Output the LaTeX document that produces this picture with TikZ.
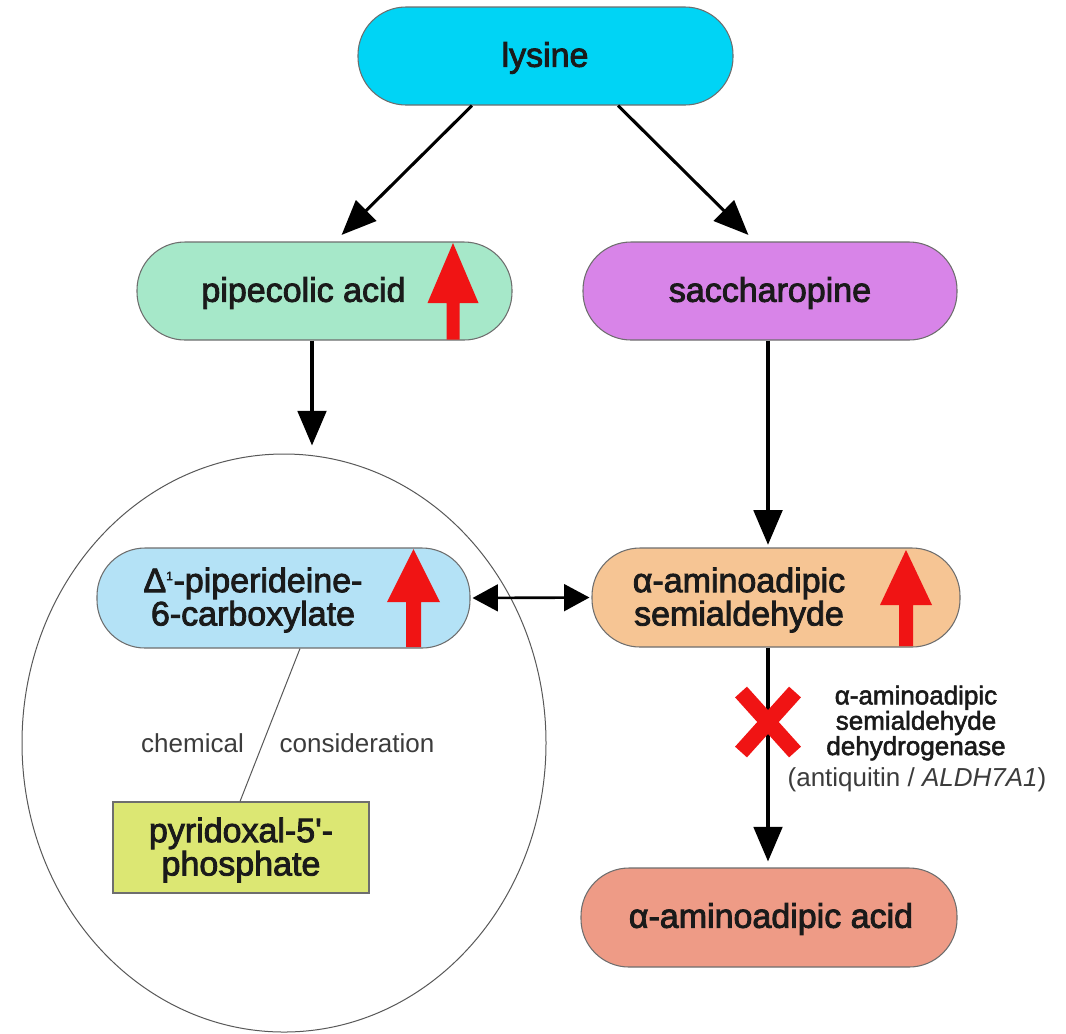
\documentclass[tikz,border=0pt]{standalone}
\usepackage{fontspec}
\setmainfont{Liberation Sans}
\newfontfamily\medfont{Liberation Sans}[FakeBold=2.5]
\newfontfamily\lblfont{Liberation Sans}[FakeBold=2]
\usetikzlibrary{shapes.geometric,arrows.meta,calc}
\definecolor{lysC}{HTML}{00D4F5}
\definecolor{pipC}{HTML}{A6E8C9}
\definecolor{sacC}{HTML}{D884E8}
\definecolor{delC}{HTML}{B4E2F6}
\definecolor{semC}{HTML}{F6C594}
\definecolor{acdC}{HTML}{EE9B86}
\definecolor{pyrC}{HTML}{DCE773}
\definecolor{upred}{HTML}{F01414}
\definecolor{boxline}{HTML}{6E6E6E}
\definecolor{txt}{HTML}{1A1A1A}
\newcommand\redup[6]{\fill[upred] (#1,#2) -- ({#1+#5},#3) -- ({#1+#6},#3) -- ({#1+#6},#4) -- ({#1-#6},#4) -- ({#1-#6},#3) -- ({#1-#5},#3) -- cycle;}
\begin{document}
\begin{tikzpicture}[x=0.75pt,y=-0.75pt,
  pill/.style={draw=boxline, line width=0.8pt, rounded corners=36pt, minimum height=73.5pt, inner sep=0pt},
  ntext/.style={text=txt, align=center, inner sep=0pt, font=\medfont\fontsize{25.5}{25}\selectfont},
  small/.style={text=txt!85, inner sep=0pt, font=\fontsize{19.5}{24}\selectfont},
  arr/.style={line width=2.3pt, -{Triangle[length=26pt,width=21.5pt]}},
  darr/.style={line width=2pt, {Triangle[length=19pt,width=20pt]}-{Triangle[length=19pt,width=20pt]}},
  thin/.style={draw=boxline!80!black, line width=0.75pt}
]
\useasboundingbox (0,0) rectangle (1066,1033);
\fill[white] (0,0) rectangle (1066,1033);

% cell ellipse
\node (cell) [thin, ellipse, minimum width=393pt, minimum height=433.5pt, inner sep=0pt] at (284,743) {};

% boxes
\node (lys) [pill, fill=lysC, minimum width=281.25pt] at (545.5,56) {};
\node (pip) [pill, fill=pipC, minimum width=281.25pt] at (324.5,291) {};
\node (sac) [pill, fill=sacC, minimum width=280.5pt] at (770,291) {};
\node (del) [pill, fill=delC, minimum width=279.75pt, minimum height=75pt] at (283.5,598) {};
\node (sem) [pill, fill=semC, minimum width=276pt, minimum height=74.25pt] at (776,597.5) {};
\node (acd) [pill, fill=acdC, minimum width=282pt, minimum height=74.25pt] at (769,917.5) {};
\node (pyr) [draw=boxline, line width=0.8pt, fill=pyrC, minimum width=192pt, minimum height=68.25pt, inner sep=0pt] at (241,847.5) {};

% texts
\node (lysT) [ntext] at (545,58) {lysine};
\node (pipT) [ntext] at (303.5,293) {pipecolic acid};
\node (sacT) [ntext] at (770,293) {saccharopine};
\node (delT) [ntext] at (253,600) {Δ\textsuperscript{\fontsize{9}{9}\selectfont 1}-piperideine-\\6-carboxylate};
\node (semT) [ntext] at (739,600) {α-aminoadipic\\semialdehyde};
\node (acdT) [ntext] at (771,919) {α-aminoadipic acid};
\node (pyrT) [ntext] at (241,850) {pyridoxal-5\textquotesingle-\\phosphate};

% red up arrows
\redup{453}{243}{303}{339.5}{25.5}{6.5}
\redup{413.5}{549}{602}{647}{26.5}{7.5}
\redup{906}{550}{605}{646}{26}{7}

% connectors
\draw[arr, shorten >=7pt] ($(lys.south)+(-73.5,0)$) -- ($(pip.north)+(10.5,0)$);
\draw[arr, shorten >=7pt] ($(lys.south)+(72.5,0)$) -- ($(sac.north)+(-15,0)$);
\coordinate (pipout) at ($(pip.south)+(-12.5,0)$);
\draw[arr, shorten >=6pt] (pipout) -- (pipout |- cell.north);
\coordinate (sacout) at ($(sac.south)+(-2,0)$);
\draw[arr, shorten >=2pt] (sacout) -- (sacout |- sem.north);
\coordinate (semout) at ($(sem.south)+(-8,0)$);
\draw[arr, shorten >=4.5pt] (semout) -- (semout |- acd.north);
\draw[darr, shorten <=1.5pt, shorten >=1.5pt] (del.east) -- (sem.west);

% chemical consideration
\draw[thin] ($(del.south)+(16.5,0)$) -- ($(pyr.north)+(-1,0)$);
\node (chemT) [small] at (192.5,743) {chemical};
\node (consT) [small] at (357,743) {consideration};

% red X
\draw[upred, line width=12pt] (741,692) -- (795,752);
\draw[upred, line width=12pt] (795,692) -- (741,752);

% enzyme label
\node (enz) [inner sep=0pt, align=center, text=txt, font=\lblfont\fontsize{19.5}{19}\selectfont] at (916,723) {α-aminoadipic\\semialdehyde\\dehydrogenase};
\node (enzB) [small] at (917,780) {(antiquitin / \textit{ALDH7A1})};
\end{tikzpicture}
\end{document}
